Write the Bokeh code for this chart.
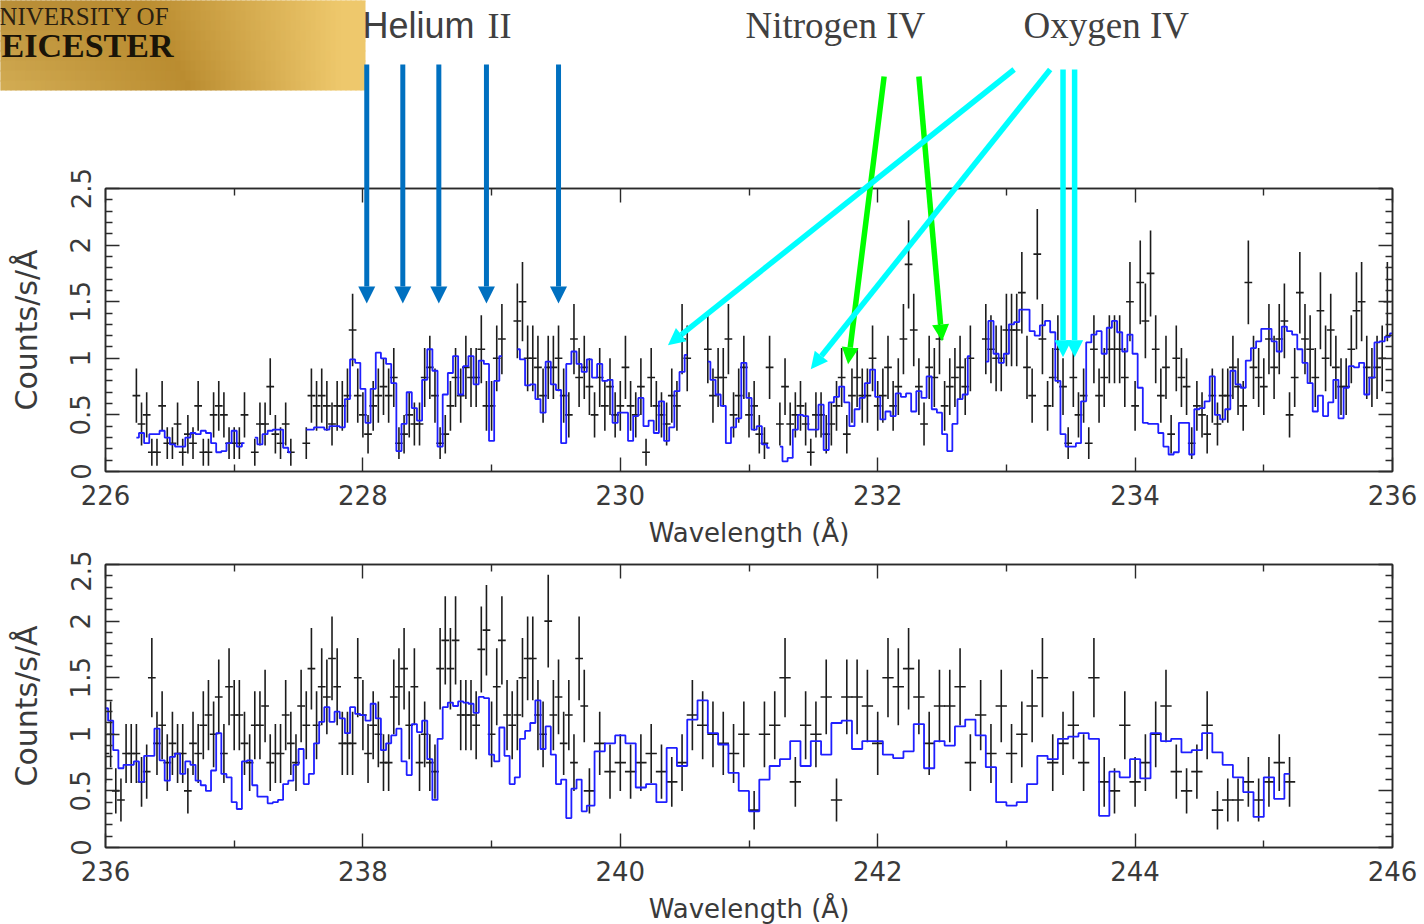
from bokeh.plotting import figure
from bokeh.layouts import column
from bokeh.models import (FixedTicker, LinearAxis, CustomJSTickFormatter, Range1d, Arrow,
                          NormalHead, Label, ColumnDataSource)
from bokeh.embed import file_html
from bokeh.resources import INLINE

nan = float("nan")

x_major = [226, 228, 230, 232, 234, 236, 238, 240, 242, 244, 246]
x_minor = [227, 229, 231, 233, 235, 237, 239, 241, 243, 245]
y_major = [0, 0.5, 1, 1.5, 2, 2.5]
y_minor = [0.1, 0.2, 0.3, 0.4, 0.6, 0.7, 0.8, 0.9, 1.1, 1.2, 1.3, 1.4, 1.6, 1.7, 1.8, 1.9, 2.1, 2.2, 2.3, 2.4]

top_wave = [
 226.24,226.28,226.32,226.36,226.40,226.44,226.48,226.52,226.56,226.60,
 226.64,226.68,226.72,226.76,226.80,226.84,226.88,226.92,226.96,227.00,
 227.04,227.08,227.12,227.16,227.20,227.24,227.28,227.32,227.36,227.40,
 227.44,227.48,227.52,227.56,227.60,227.64,227.68,227.72,227.76,227.80,
 227.84,227.88,227.92,227.96,228.00,228.04,228.08,228.12,228.16,228.20,
 228.24,228.28,228.32,228.36,228.40,228.44,228.48,228.52,228.56,228.60,
 228.64,228.68,228.72,228.76,228.80,228.84,228.88,228.92,228.96,229.00,
 229.04,229.08,229.12,229.16,229.20,229.24,229.28,229.32,229.36,229.40,
 229.44,229.48,229.52,229.56,229.60,229.64,229.68,229.72,229.76,229.80,
 229.84,229.88,229.92,229.96,230.00,230.04,230.08,230.12,230.16,230.20,
 230.24,230.28,230.32,230.36,230.40,230.44,230.48,230.52,230.56,230.60,
 230.64,230.68,230.72,230.76,230.80,230.84,230.88,230.92,230.96,231.00,
 231.04,231.08,231.12,231.16,231.20,231.24,231.28,231.32,231.36,231.40,
 231.44,231.48,231.52,231.56,231.60,231.64,231.68,231.72,231.76,231.80,
 231.84,231.88,231.92,231.96,232.00,232.04,232.08,232.12,232.16,232.20,
 232.24,232.28,232.32,232.36,232.40,232.44,232.48,232.52,232.56,232.60,
 232.64,232.68,232.72,232.76,232.80,232.84,232.88,232.92,232.96,233.00,
 233.04,233.08,233.12,233.16,233.20,233.24,233.28,233.32,233.36,233.40,
 233.44,233.48,233.52,233.56,233.60,233.64,233.68,233.72,233.76,233.80,
 233.84,233.88,233.92,233.96,234.00,234.04,234.08,234.12,234.16,234.20,
 234.24,234.28,234.32,234.36,234.40,234.44,234.48,234.52,234.56,234.60,
 234.64,234.68,234.72,234.76,234.80,234.84,234.88,234.92,234.96,235.00,
 235.04,235.08,235.12,235.16,235.20,235.24,235.28,235.32,235.36,235.40,
 235.44,235.48,235.52,235.56,235.60,235.64,235.68,235.72,235.76,235.80,
 235.84,235.88,235.92,235.96,236.00]

top_flux = [
 .67,.42,.5,.17,.17,.58,.25,.25,.42,.17,
 .33,.25,.58,.17,.17,.5,.58,.5,.25,.25,
 .25,.5,nan,.17,.42,.42,.75,.33,.25,.42,
 .17,nan,nan,.25,.67,.58,.67,.58,.42,.58,
 .58,.67,1.25,.67,.5,.33,.58,.67,.75,.67,
 .83,.25,.33,.5,.42,.42,.83,.92,.67,.25,
 .33,.58,.83,.67,.92,.83,.83,1.08,.58,.58,
 1,1.17,nan,nan,1.33,1.5,1,1,.92,.67,
 .92,.92,1,.67,.5,1.17,.83,.92,.75,.5,
 .83,.58,.75,.5,.58,.92,.58,.5,.75,.17,
 .83,.58,.5,.42,.67,.58,1.17,1,nan,nan,
 nan,1.08,.67,.83,.83,1.17,.5,.67,.92,.5,
 .58,.33,.25,.92,nan,.42,.75,.42,.5,.58,
 .42,.17,.5,.5,.33,.42,.58,.83,.33,.67,
 .83,.67,.67,1,.58,.67,.92,.58,.75,1.17,
 1.83,1.25,.75,.42,.92,.83,1.17,.58,.75,.83,
 .92,.75,1,nan,nan,1.17,1.08,1,1,1.25,
 1.25,1.25,1.58,.92,.67,1.92,1.17,.58,.83,1.08,
 .75,.25,.83,.5,.67,.25,1.08,.67,.83,1.08,
 1.08,1.08,.83,1.5,.58,1.67,1.33,1.75,1.08,.67,
 .92,.33,1,.83,.75,.25,.58,.5,.33,.67,
 .42,.67,.67,.92,.75,.58,1.67,.92,.83,.75,
 1.17,.92,1.17,1.33,.5,.83,1.58,1.17,1.08,.83,
 1.42,1,1.25,.92,.75,.75,1.08,1.42,1.5,.92,
 .83,.92,1,1.5,nan]

top_err = [
 .24,.19,.2,.12,.12,.22,.14,.14,.19,.12,
 .17,.14,.22,.12,.12,.2,.22,.2,.14,.14,
 .14,.2,nan,.12,.19,.19,.25,.17,.14,.19,
 .12,nan,nan,.14,.24,.22,.24,.22,.19,.22,
 .22,.24,.32,.24,.2,.17,.22,.24,.25,.24,
 .26,.14,.17,.2,.19,.19,.26,.28,.24,.14,
 .17,.22,.26,.24,.28,.26,.26,.3,.22,.22,
 .29,.31,nan,nan,.33,.35,.29,.29,.28,.24,
 .28,.28,.29,.24,.2,.31,.26,.28,.25,.2,
 .26,.22,.25,.2,.22,.28,.22,.2,.25,.12,
 .26,.22,.2,.19,.24,.22,.31,.29,nan,nan,
 nan,.3,.24,.26,.26,.31,.2,.24,.28,.2,
 .22,.17,.14,.28,nan,.19,.25,.19,.2,.22,
 .19,.12,.2,.2,.17,.19,.22,.26,.17,.24,
 .26,.24,.24,.29,.22,.24,.28,.22,.25,.31,
 .39,.32,.25,.19,.28,.26,.31,.22,.25,.26,
 .28,.25,.29,nan,nan,.31,.3,.29,.29,.32,
 .32,.32,.36,.28,.24,.4,.31,.22,.26,.3,
 .25,.14,.26,.2,.24,.14,.3,.24,.26,.3,
 .3,.3,.26,.35,.22,.37,.33,.38,.3,.24,
 .28,.17,.29,.26,.25,.14,.22,.2,.17,.24,
 .19,.24,.24,.28,.25,.22,.37,.28,.26,.25,
 .31,.28,.31,.33,.2,.26,.36,.31,.3,.26,
 .34,.29,.32,.28,.25,.25,.3,.34,.35,.28,
 .26,.28,.29,.35,nan]

top_model = [
 .30,.34,.25,.33,.33,.36,.30,.24,.22,.22,
 .30,.34,.33,.36,.34,.25,.17,.18,.25,.36,
 .22,.25,nan,.30,.24,.33,.36,.37,.37,.21,
 .17,nan,nan,.37,.37,.39,.39,.37,.40,.40,
 .39,.64,.99,.96,.73,.43,.73,1.05,1.0,.95,
 .78,.18,.42,.70,.56,.45,.81,1.08,.89,.22,
 .68,.87,1.02,.68,.93,1.02,.77,.98,.95,.27,
 .80,1.02,nan,nan,1.08,.99,.76,.77,.64,.52,
 .97,.77,.72,.25,.95,1.06,.95,.88,.99,.83,
 .95,.80,.81,.43,.52,.52,.27,.49,.65,.40,
 .45,.34,.62,.27,.39,.71,.88,1.03,nan,nan,
 nan,.97,.81,.68,.58,.25,.39,.47,.96,.65,
 .37,.40,.24,.21,nan,.22,.09,.12,.37,.50,
 .49,.37,.37,.59,.19,.61,.66,.75,.61,.40,
 .55,.65,.78,.90,.66,.46,.53,.49,.69,.66,
 .69,.53,.71,.65,.84,.55,.52,.33,.18,.42,
 .64,.68,1.02,nan,nan,.97,1.33,1.04,.96,1.04,
 1.30,1.32,1.43,1.43,1.24,1.20,1.29,1.33,1.23,.80,
 .33,.22,.22,.25,.62,1.14,1.21,1.24,1.04,1.27,
 1.33,1.23,1.06,1.21,1.04,.74,.43,.42,.42,.34,
 .22,.15,.17,.43,.43,.15,.55,.56,.62,.84,
 .50,.46,.55,.89,.77,.74,.98,1.09,1.15,1.26,
 1.26,1.15,1.06,1.28,1.24,1.21,1.08,.96,.78,.53,
 .67,.49,.61,.81,.47,.74,.93,.92,.96,.68,
 .83,1.14,1.15,1.19,1.22]

bottom_wave = [
 236.00,236.04,236.08,236.12,236.16,236.20,236.24,236.28,236.32,236.36,
 236.40,236.44,236.48,236.52,236.56,236.60,236.64,236.68,236.72,236.76,
 236.80,236.84,236.88,236.92,236.96,237.00,237.04,237.08,237.12,237.16,
 237.20,237.24,237.28,237.32,237.36,237.40,237.44,237.48,237.52,237.56,
 237.60,237.64,237.68,237.72,237.76,237.80,237.84,237.88,237.92,237.96,
 238.00,238.04,238.08,238.12,238.16,238.20,238.24,238.28,238.32,238.36,
 238.40,238.44,238.48,238.52,238.56,238.60,238.64,238.68,238.72,238.76,
 238.80,238.84,238.88,238.92,238.96,239.00,239.04,239.08,239.12,239.16,
 239.20,239.24,239.28,239.32,239.36,239.40,239.44,239.48,239.52,239.56,
 239.60,239.64,239.68,239.72,
 239.76,239.84,239.92,240.00,240.08,240.16,240.24,240.32,240.40,240.48,
 240.56,240.64,240.72,240.80,240.88,240.96,241.04,241.12,241.20,241.28,
 241.36,241.44,241.52,241.60,241.68,241.76,241.84,241.92,242.00,242.08,
 242.16,242.24,242.32,242.40,242.48,242.56,242.64,242.72,242.80,242.88,
 242.96,243.04,243.12,243.20,243.28,243.36,243.44,243.52,243.60,243.68,
 243.76,243.84,243.92,244.00,244.08,244.16,244.24,244.32,244.40,244.48,
 244.56,244.64,244.72,244.80,244.88,244.96,245.04,245.12,245.20]

bottom_flux = [
 .83,1,.5,.42,.83,.83,.83,.58,.67,1.5,
 .92,1.08,.75,.92,.83,.83,.5,.92,.83,1.08,
 1.17,1,1.33,.83,1.42,1.17,1.17,.92,.75,1.08,
 1.08,1.25,.75,.83,.83,1.17,.92,.75,1.25,1.08,
 1.58,1.08,1.42,1.33,1.67,1.42,.92,.92,.92,1.5,
 1.17,.83,1.08,1,.75,.75,1.33,1.42,1.58,1.08,
 1.42,.75,1,.75,.67,1.58,1.83,1.58,1.83,1.17,
 1.17,1.17,1.08,1.75,1.92,1,1.42,1.83,1.17,1.08,
 1.17,1.5,1.67,1.67,1.17,1,2,1.17,1.33,.92,
 1.17,.75,1.67,1.25,
 .5,.92,.67,.75,.67,.75,.83,.67,.58,.75,
 1.17,1.08,1,.92,.83,1,.33,1,1.08,1.5,
 .58,1.08,1,1.33,.42,1.33,1.33,1.25,.92,1.5,
 1.42,1.58,1.33,.92,1.25,1.25,1.42,.75,1.17,.83,
 1.25,.83,1,1.25,1.5,.75,.92,1.08,.75,1.5,
 .58,.5,1.08,.58,.75,1,1.25,.67,.5,.67,
 1.08,.33,.42,.42,.58,.42,.58,.75,.58]

bottom_err = [
 .26,.29,.2,.19,.26,.26,.26,.22,.24,.35,
 .28,.3,.25,.28,.26,.26,.2,.28,.26,.3,
 .31,.29,.33,.26,.34,.31,.31,.28,.25,.3,
 .3,.32,.25,.26,.26,.31,.28,.25,.32,.3,
 .36,.3,.34,.33,.37,.34,.28,.28,.28,.35,
 .31,.26,.3,.29,.25,.25,.33,.34,.36,.3,
 .34,.25,.29,.25,.24,.36,.39,.36,.39,.31,
 .31,.31,.3,.38,.4,.29,.34,.39,.31,.3,
 .31,.35,.37,.37,.31,.29,.41,.31,.33,.28,
 .31,.25,.37,.32,
 .2,.28,.24,.25,.24,.25,.26,.24,.22,.25,
 .31,.3,.29,.28,.26,.29,.17,.29,.3,.35,
 .22,.3,.29,.33,.19,.33,.33,.32,.28,.35,
 .34,.36,.33,.28,.32,.32,.34,.25,.31,.26,
 .32,.26,.29,.32,.35,.25,.28,.3,.25,.35,
 .22,.2,.3,.22,.25,.29,.32,.24,.2,.24,
 .3,.17,.19,.19,.22,.19,.22,.25,.22]

bottom_model = [
 1.23,1.12,.86,.70,.73,.73,.76,.58,.81,.81,
 1.05,.77,.59,.80,.83,.65,.76,.73,.59,.55,
 .50,.68,1.01,.65,.62,.40,.34,.76,.77,.55,
 .45,.45,.39,.40,.42,.56,.59,.73,.87,.56,
 .65,.92,1.11,1.24,1.11,1.20,1.14,1.01,1.24,1.18,
 1.17,1.12,1.27,1.14,.86,.92,.99,1.05,.76,.64,
 1.09,1.02,1.12,.78,.42,.96,1.24,1.28,1.25,1.29,
 1.28,1.27,1.19,1.33,1.32,.82,.76,1.06,.81,.56,
 .62,.96,1.03,1.10,1.30,.87,1.07,.82,.56,.60,
 .26,.52,.60,.32,
 .37,.85,.92,.99,.92,.53,.56,.40,.88,.72,
 1.13,1.30,1.01,.91,.66,.50,.32,.60,.72,.78,
 .94,.72,.94,.82,1.10,1.12,.87,.94,.94,.82,
 .79,.85,1.09,.70,.94,.90,1.07,1.13,.99,.71,
 .40,.37,.40,.56,.81,.78,.96,.98,1.01,.96,
 .28,.67,.62,.78,.61,1.01,.94,.96,.84,.86,
 1.01,.84,.73,.62,.49,.27,.62,.43,.65]

helium_lines = [228.03, 228.31, 228.59, 228.96, 229.52]
nitrogen_starts = [232.05, 232.32]
nitrogen_ends = [231.77, 232.50]
nitrogen_tips = [0.947, 1.15]
oxygen_starts = [233.06, 233.34, 233.44, 233.53]
oxygen_ends = [230.37, 231.48, 233.44, 233.53]
oxygen_tips = [1.115, 0.903, 1.01, 1.01]

PAGE_W, PAGE_H = 1417, 924
LEFT, RIGHT_X, F_TOP, F_BOTTOM = 105, 1392, 188, 471
BOTTOM_BORDER, SECOND_TOP = 79, 14
PANELS_H = F_TOP + (F_BOTTOM - F_TOP) + BOTTOM_BORDER + SECOND_TOP + (F_BOTTOM - F_TOP) + BOTTOM_BORDER
PX_X = (RIGHT_X - LEFT) / 10.0
PX_Y = (F_BOTTOM - F_TOP) / 2.5
def dx(px):
    return 226 + (px - LEFT) / PX_X
def dy(py):
    return (F_BOTTOM - py) / PX_Y

FONT = "DejaVu Sans"
INK = "#3a3a3a"

def panel(x0, wave, flux, err, model, half_widths, top_border):
    p = figure(frame_width=RIGHT_X - LEFT, frame_height=F_BOTTOM - F_TOP,
               x_range=Range1d(x0, x0 + 10), y_range=Range1d(0, 2.5),
               output_backend="svg", toolbar_location=None,
               min_border_left=LEFT, min_border_right=PAGE_W - RIGHT_X,
               min_border_top=top_border, min_border_bottom=BOTTOM_BORDER,
               x_axis_label="Wavelength (Å)", y_axis_label="Counts/s/Å")
    p.grid.visible = False
    p.outline_line_color = "#2a2a2a"
    p.outline_line_width = 1.5
    p.background_fill_color = None
    p.border_fill_color = None

    xt = FixedTicker(ticks=x_major, minor_ticks=x_minor)
    yt = FixedTicker(ticks=y_major, minor_ticks=y_minor)
    blank = CustomJSTickFormatter(code="return ''")
    below_axis = p.below[0]
    left_axis = p.left[0]
    extra_top = LinearAxis(ticker=xt, formatter=blank)
    extra_right = LinearAxis(ticker=yt, formatter=blank)
    p.add_layout(extra_top, "above")
    p.add_layout(extra_right, "right")
    below_axis.ticker = xt
    left_axis.ticker = yt
    for a in [below_axis, left_axis, extra_top, extra_right]:
        a.major_tick_in = 14
        a.major_tick_out = 0
        a.minor_tick_in = 7
        a.minor_tick_out = 0
        a.major_tick_line_color = "#2a2a2a"
        a.minor_tick_line_color = "#2a2a2a"
        a.major_tick_line_width = 1.4
        a.minor_tick_line_width = 1.4
        a.axis_line_color = "#2a2a2a"
        a.axis_line_width = 1.5
        a.major_label_text_font = FONT
        a.major_label_text_font_size = "26px"
        a.major_label_text_color = INK
        a.axis_label_text_font = FONT
        a.axis_label_text_color = INK
        a.axis_label_text_font_style = "normal"
    below_axis.axis_label_text_font_size = "26px"
    left_axis.axis_label_text_font_size = "30px"
    left_axis.major_label_orientation = "vertical"
    below_axis.major_label_standoff = 13
    left_axis.major_label_standoff = 15
    below_axis.axis_label_standoff = 10
    left_axis.axis_label_standoff = 24
    extra_top.major_label_standoff = 0
    extra_right.major_label_standoff = 0

    low = [f - e for f, e in zip(flux, err)]
    high = [f + e for f, e in zip(flux, err)]
    left = [w - h for w, h in zip(wave, half_widths)]
    right = [w + h for w, h in zip(wave, half_widths)]
    src = ColumnDataSource(dict(w=wave, f=flux, lo=low, hi=high, l=left, r=right, m=model))
    p.segment("w", "lo", "w", "hi", source=src, line_color="#1c1c1c", line_width=1.6)
    p.segment("l", "f", "r", "f", source=src, line_color="#1c1c1c", line_width=1.6)
    p.step("w", "m", source=src, mode="center", line_color="#1f1fff", line_width=1.8)
    return p

top = panel(226, top_wave, top_flux, top_err, top_model, [0.03] * len(top_wave), F_TOP)
bottom = panel(236, bottom_wave, bottom_flux, bottom_err, bottom_model,
               [0.03] * 94 + [0.044] * 69, SECOND_TOP)

# full-page transparent layer on the same scales as the upper panel: logo, labels, arrows
over = figure(frame_width=PAGE_W, frame_height=PAGE_H,
              x_range=Range1d(dx(0), dx(PAGE_W)), y_range=Range1d(dy(PAGE_H), dy(0)),
              output_backend="svg", toolbar_location=None, x_axis_type=None, y_axis_type=None,
              min_border=0, outline_line_color=None,
              background_fill_color=None, border_fill_color=None)
over.grid.visible = False

def mix(ca, cb, t):
    t = max(0.0, min(1.0, t))
    return [ca[i] * (1 - t) + cb[i] * t for i in range(3)]

logo_top_left = (183, 141, 56)
logo_bottom_left = (212, 174, 85)
logo_dark = (186, 140, 48)
logo_right = (238, 200, 108)

def band_colour(px, py):
    left_c = mix(logo_top_left, logo_bottom_left, py / 90)
    dark_x = 140 + 50 * py / 90
    if px < dark_x:
        c = mix(left_c, logo_dark, px / dark_x)
    else:
        c = mix(logo_dark, logo_right, (px - dark_x) / (340 - dark_x))
    return "#%02x%02x%02x" % tuple(round(v) for v in c)

cell_l, cell_r, cell_t, cell_b, cell_c = [], [], [], [], []
for px in range(-5, 365, 5):
    for py in range(-10, 90, 10):
        cell_l.append(dx(px))
        cell_r.append(dx(min(px + 6, 365)))
        cell_t.append(dy(py))
        cell_b.append(dy(min(py + 11, 90)))
        cell_c.append(band_colour(max(px, 0) + 2, max(py, 0) + 5))
over.quad(left=cell_l, right=cell_r, top=cell_t, bottom=cell_b, fill_color=cell_c, line_color=None)

def text(txt, px, py, font, size, color="#404040", style="normal", align="left"):
    over.add_layout(Label(x=dx(px), y=dy(py), text=txt, text_font=font, text_font_size=f"{size}px",
                          text_color=color, text_font_style=style, text_align=align,
                          text_baseline="alphabetic"))

text("NIVERSITY OF", 169, 16, "Liberation Serif", 25, "#2a2010", align="right")
text("EICESTER", 173, 45, "Liberation Serif", 34, "#1a1408", "bold", align="right")
text("Helium", 362, 25, "Liberation Sans", 36)
text("II", 487, 25, "Liberation Serif", 36)
text("Nitrogen IV", 745, 25, "Liberation Serif", 37)
text("Oxygen IV", 1023, 25, "Liberation Serif", 37)

def arrow(x0, y0, x1, y1, color, width, size):
    head = NormalHead(size=size, fill_color=color, line_color=color, line_width=0)
    over.add_layout(Arrow(end=head, x_start=x0, y_start=y0, x_end=x1, y_end=y1,
                          line_color=color, line_width=width))

for w in helium_lines:
    arrow(w, dy(64), w, dy(303), "#0070c0", 5, 17)
for a, b, t in zip(nitrogen_starts, nitrogen_ends, nitrogen_tips):
    arrow(a, dy(76), b, t, "#00ff00", 5.5, 17)
for a, b, t in zip(oxygen_starts, oxygen_ends, oxygen_tips):
    arrow(a, dy(69), b, t, "#00ffff", 5.5, 17)

over.margin = (-PANELS_H, 0, 0, 0)
panels = column(top, bottom, spacing=0, margin=(0, 0, 0, 0))
page = column(panels, over, spacing=0, margin=(0, 0, 0, 0))
open("out.html", "w").write(file_html(page, INLINE))
